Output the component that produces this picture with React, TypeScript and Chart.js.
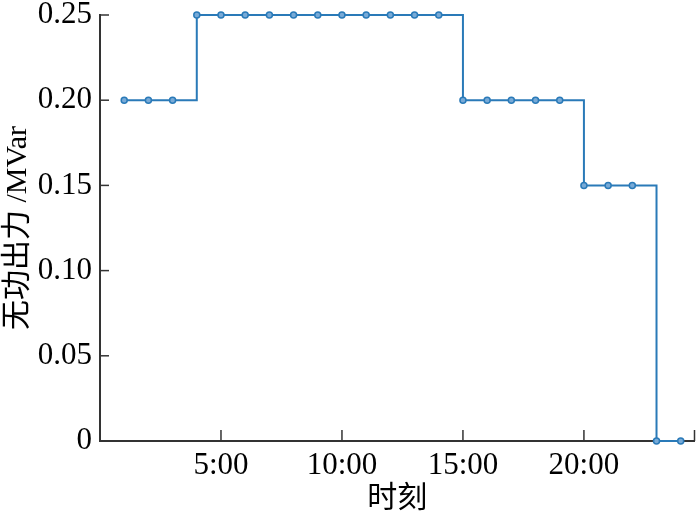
import React, { useEffect, useRef } from "react";
import { Chart, registerables } from "chart.js";

Chart.register(...registerables);

const hours = [1, 2, 3, 4, 5, 6, 7, 8, 9, 10, 11, 12, 13, 14, 15, 16, 17, 18, 19, 20, 21, 22, 23, 24];
const reactivePower = [0.2, 0.2, 0.2, 0.25, 0.25, 0.25, 0.25, 0.25, 0.25, 0.25, 0.25, 0.25, 0.25, 0.25, 0.2, 0.2, 0.2, 0.2, 0.2, 0.15, 0.15, 0.15, 0, 0];
const xTickValues = [0, 5, 10, 15, 20, 24.57];
const xTickLabels = ["", "5:00", "10:00", "15:00", "20:00", ""];
const yTickValues = [0, 0.05, 0.1, 0.15, 0.2, 0.25];
const yTickLabels = ["0", "0.05", "0.10", "0.15", "0.20", "0.25"];

const FONT = '"Liberation Serif", "Noto Sans CJK SC", serif';
const LINE = "#2a7ab8";
const AXIS = "#333333";

const inwardTicks = {
  id: "inwardTicks",
  afterDatasetsDraw(chart: any) {
    const { ctx, chartArea, scales } = chart;
    ctx.save();
    ctx.strokeStyle = AXIS;
    ctx.lineWidth = 1.5;
    const xs = scales.x;
    xs.ticks.forEach((t: any) => {
      const px = xs.getPixelForValue(t.value);
      if (Math.abs(px - chartArea.left) < 2) return;
      ctx.beginPath();
      ctx.moveTo(px, chartArea.bottom);
      ctx.lineTo(px, chartArea.bottom - 11);
      ctx.stroke();
    });
    const ys = scales.y;
    ys.ticks.forEach((t: any) => {
      const py = ys.getPixelForValue(t.value);
      if (Math.abs(py - chartArea.bottom) < 2) return;
      ctx.beginPath();
      ctx.moveTo(chartArea.left, py);
      ctx.lineTo(chartArea.left + 9, py);
      ctx.stroke();
    });
    ctx.restore();
  },
};

export default function App() {
  const ref = useRef<HTMLCanvasElement | null>(null);
  useEffect(() => {
    document.body.style.margin = "0";
    if (!ref.current) return;
    const chart = new Chart(ref.current, {
      type: "line",
      data: {
        labels: hours,
        datasets: [
          {
            data: hours.map((h, i) => ({ x: h, y: reactivePower[i] })),
            stepped: true,
            borderColor: LINE,
            borderWidth: 2,
            pointRadius: 3,
            pointBorderWidth: 1.5,
            pointBorderColor: LINE,
            pointBackgroundColor: "rgba(120,170,215,1)",
            clip: false as any,
          },
        ],
      },
      options: {
        animation: false,
        responsive: false,
        maintainAspectRatio: false,
        layout: { padding: { top: 15, right: 0, left: 0, bottom: 0 } },
        plugins: { legend: { display: false }, tooltip: { enabled: false } },
        scales: {
          x: {
            type: "linear",
            min: 0,
            max: 24.57,
            afterFit: (s: any) => {
              s.height = 78;
              s.paddingLeft = 0;
              s.paddingRight = 0;
            },
            afterBuildTicks: (s: any) => {
              s.ticks = xTickValues.map((v) => ({ value: v }));
            },
            ticks: {
              autoSkip: false,
              maxRotation: 0,
              padding: 6,
              color: "#000",
              font: { family: FONT, size: 31 },
              callback: (v: any) => {
                const idx = xTickValues.indexOf(Number(v));
                return idx >= 0 ? xTickLabels[idx] : "";
              },
            },
            grid: { display: true, drawOnChartArea: false, drawTicks: false, color: "rgba(0,0,0,0)" },
            border: { display: true, color: AXIS, width: 2 },
            title: {
              display: true,
              text: "时刻",
              color: "#000",
              font: { family: FONT, size: 30 },
              padding: { top: 0, bottom: 2 },
            },
          },
          y: {
            min: 0,
            max: 0.25,
            afterFit: (s: any) => {
              s.width = 100;
              s.paddingTop = 0;
              s.paddingBottom = 0;
            },
            afterBuildTicks: (s: any) => {
              s.ticks = yTickValues.map((v) => ({ value: v }));
            },
            ticks: {
              padding: 8,
              color: "#000",
              font: { family: FONT, size: 31 },
              callback: (v: any) => {
                const idx = yTickValues.indexOf(Number(v));
                return idx >= 0 ? yTickLabels[idx] : "";
              },
            },
            grid: { display: true, drawOnChartArea: false, drawTicks: false, color: "rgba(0,0,0,0)" },
            border: { display: true, color: AXIS, width: 2 },
            title: {
              display: true,
              text: "无功出力 /MVar",
              color: "#000",
              font: { family: FONT, size: 30 },
              padding: { top: 0, bottom: 0 },
            },
          },
        },
      },
      plugins: [inwardTicks],
    });
    return () => chart.destroy();
  }, []);
  return (
    <div style={{ width: 700, height: 519, position: "relative" }}>
      <canvas ref={ref} width={700} height={519} style={{ display: "block" }} />
    </div>
  );
}
